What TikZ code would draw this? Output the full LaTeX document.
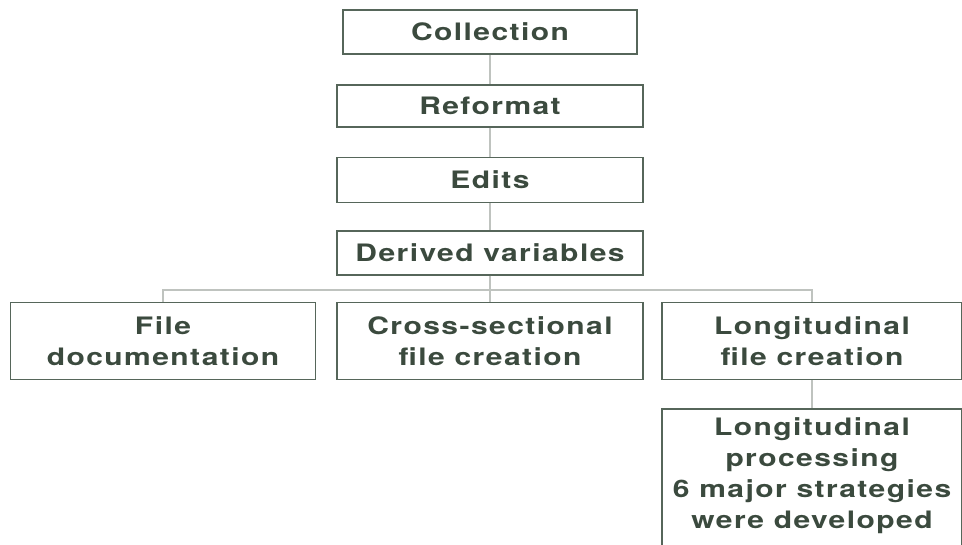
\documentclass[tikz,border=0pt]{standalone}
\usepackage{fontspec}
\usepackage{tikz}
\usepackage{xcolor}
\usetikzlibrary{positioning}

\newfontfamily\boxfont[FakeStretch=1.25, LetterSpace=6]{TeX Gyre Heros}
\definecolor{inkgreen}{HTML}{3B4A3E}
\definecolor{framegreen}{HTML}{56665A}
\definecolor{linkgrey}{HTML}{BFC3BF}

\begin{document}
\begin{tikzpicture}[x=1pt, y=-1pt,
    stage/.style={draw=framegreen, line width=1.4pt, fill=white, inner sep=0pt,
        minimum width=306pt, align=center, text=inkgreen,
        font={\boxfont\bfseries\fontsize{24}{31}\selectfont}},
    link/.style={draw=linkgrey, line width=1.2pt}]
    \useasboundingbox[fill=white] (0,0) rectangle (962,545);

    \coordinate (bus) at (490,290);

    \node[stage, minimum width=294pt, minimum height=44pt] (coll) at (490,32) {Collection};
    \node[stage, minimum height=42pt] (reformat) at (490,106) {Reformat};
    \node[stage, minimum height=45pt] (edits) at (490,180) {Edits};
    \node[stage, minimum height=44pt] (derived) at (490,253) {Derived variables};

    \node[stage, minimum width=305pt, minimum height=77pt] (filedoc) at (163,341) {File\\documentation};
    \node[stage, minimum height=77pt] (cross) at (490,341) {Cross-sectional\\file creation};
    \node[stage, minimum width=300pt, minimum height=77pt] (longfile) at (812,341) {Longitudinal\\file creation};
    % runs off the bottom of the page
    \node[stage, minimum width=300pt, minimum height=150pt] (longproc) at (812,484)
        {Longitudinal\\processing\\6 major strategies\\were developed\rule[-22pt]{0pt}{0pt}};

    % connectors between the stages
    \draw[link] (coll) -- (reformat);
    \draw[link] (reformat) -- (edits);
    \draw[link] (edits) -- (derived);
    \draw[link] (derived) -- (cross);
    \draw[link] (filedoc.north) |- (bus) -| (longfile.north);
    \draw[link] (longfile) -- (longproc);
\end{tikzpicture}
\end{document}
